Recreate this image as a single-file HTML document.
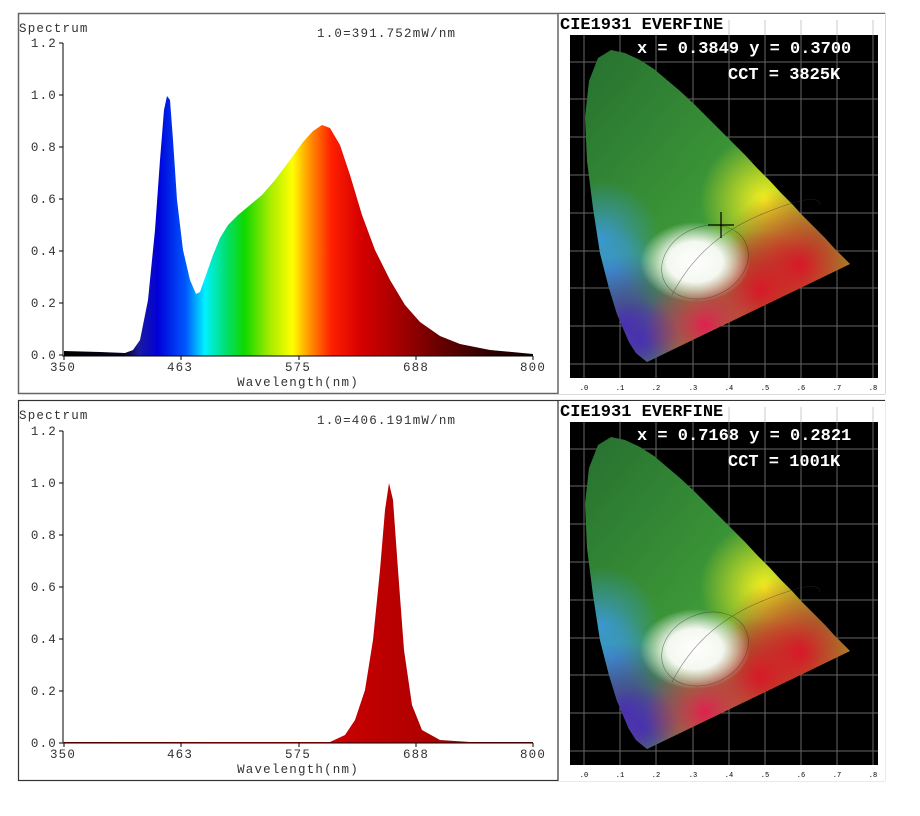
<!DOCTYPE html>
<html><head><meta charset="utf-8"><style>
html,body{margin:0;padding:0;background:#fff;}
svg{display:block;}
.m{font-family:"Liberation Mono",monospace;}
.l{letter-spacing:1.2px;}
</style></head><body>
<svg width="920" height="816" viewBox="0 0 920 816" xmlns="http://www.w3.org/2000/svg">
<defs>
<linearGradient id="spec" gradientUnits="userSpaceOnUse" x1="64" y1="0" x2="533" y2="0">
<stop offset="0" stop-color="#000"/>
<stop offset="0.13" stop-color="#050520"/>
<stop offset="0.16" stop-color="#1a1aa0"/>
<stop offset="0.2" stop-color="#0000d8"/>
<stop offset="0.26" stop-color="#0058ff"/>
<stop offset="0.3" stop-color="#00f0ff"/>
<stop offset="0.345" stop-color="#00e070"/>
<stop offset="0.385" stop-color="#10d800"/>
<stop offset="0.44" stop-color="#a8ec00"/>
<stop offset="0.487" stop-color="#ffff00"/>
<stop offset="0.525" stop-color="#ff9000"/>
<stop offset="0.57" stop-color="#ff2000"/>
<stop offset="0.63" stop-color="#d80000"/>
<stop offset="0.72" stop-color="#a00000"/>
<stop offset="0.8" stop-color="#680000"/>
<stop offset="0.9" stop-color="#300000"/>
<stop offset="1" stop-color="#100000"/>
</linearGradient>
<linearGradient id="red" x1="0" y1="0" x2="1" y2="0">
<stop offset="0" stop-color="#a00000"/><stop offset="0.5" stop-color="#d40000"/><stop offset="1" stop-color="#900000"/>
</linearGradient>
<clipPath id="hs"><path d="M647,362 L636,353 L629,342 L617,314 L609,288 L600,253 L593,208 L587,161 L585,117 L589,81 L598,58 L611,50 L625,53 L640,60 L654,69 L667,80 L680,91 L693,103 L706,116 L719,129 L732,142 L745,155 L757,168 L770,181 L781,193 L792,204 L802,215 L811,224 L819,232 L825,238 L834,248 L850,264 Z"/></clipPath>
<radialGradient id="gY"><stop offset="0" stop-color="#f4f020"/><stop offset="1" stop-color="#f4f020" stop-opacity="0"/></radialGradient>
<radialGradient id="gR"><stop offset="0" stop-color="#d81828"/><stop offset="1" stop-color="#d81828" stop-opacity="0"/></radialGradient>
<radialGradient id="gB"><stop offset="0" stop-color="#4a30b0"/><stop offset="1" stop-color="#4a30b0" stop-opacity="0"/></radialGradient>
<radialGradient id="gC"><stop offset="0" stop-color="#3a98d0"/><stop offset="1" stop-color="#3a98d0" stop-opacity="0"/></radialGradient>
<radialGradient id="gW"><stop offset="0" stop-color="#ffffff"/><stop offset="0.5" stop-color="#f4f8f0"/><stop offset="1" stop-color="#ffffff" stop-opacity="0"/></radialGradient>
<radialGradient id="gM"><stop offset="0" stop-color="#e02050"/><stop offset="1" stop-color="#e02050" stop-opacity="0"/></radialGradient>
<linearGradient id="gG" x1="0" y1="0" x2="1" y2="1"><stop offset="0" stop-color="#256e30"/><stop offset="0.5" stop-color="#3e9a38"/><stop offset="1" stop-color="#b8c820"/></linearGradient>
<g id="cie">
<rect x="558" y="14" width="327" height="380" fill="#fff"/>
<rect x="570" y="35" width="308" height="343" fill="#000"/>
<g stroke="#aaa" stroke-width="1" opacity="0.6">
<line x1="584" y1="20" x2="584" y2="378"/><line x1="620" y1="20" x2="620" y2="378"/><line x1="656" y1="20" x2="656" y2="378"/><line x1="693" y1="20" x2="693" y2="378"/><line x1="729" y1="20" x2="729" y2="378"/><line x1="765" y1="20" x2="765" y2="378"/><line x1="801" y1="20" x2="801" y2="378"/><line x1="837" y1="20" x2="837" y2="378"/><line x1="873" y1="20" x2="873" y2="378"/>
<line x1="570" y1="62" x2="878" y2="62"/><line x1="570" y1="99" x2="878" y2="99"/><line x1="570" y1="137" x2="878" y2="137"/><line x1="570" y1="175" x2="878" y2="175"/><line x1="570" y1="213" x2="878" y2="213"/><line x1="570" y1="251" x2="878" y2="251"/><line x1="570" y1="288" x2="878" y2="288"/><line x1="570" y1="326" x2="878" y2="326"/><line x1="570" y1="364" x2="878" y2="364"/>
</g>
<g clip-path="url(#hs)">
<rect x="580" y="40" width="280" height="330" fill="url(#gG)"/>
<circle cx="600" cy="240" r="60" fill="url(#gC)"/>
<circle cx="612" cy="270" r="45" fill="url(#gC)"/>
<circle cx="625" cy="325" r="70" fill="url(#gB)"/>
<circle cx="640" cy="340" r="40" fill="url(#gB)"/>
<circle cx="765" cy="200" r="65" fill="url(#gY)"/>
<circle cx="800" cy="265" r="80" fill="url(#gR)"/>
<circle cx="760" cy="290" r="60" fill="url(#gR)"/>
<circle cx="705" cy="325" r="60" fill="url(#gM)"/>
<ellipse cx="695" cy="262" rx="55" ry="40" fill="url(#gW)"/>
</g>
<g fill="none" stroke="#333" stroke-width="0.6" opacity="0.6">
<path d="M672,295 Q700,240 760,215 T820,205"/>
<ellipse cx="705" cy="262" rx="45" ry="35" transform="rotate(-25 705 262)"/>
</g>
<g class="m" font-size="7" fill="#000" text-anchor="middle">
<text x="584" y="390">.0</text><text x="620" y="390">.1</text><text x="656" y="390">.2</text><text x="693" y="390">.3</text><text x="729" y="390">.4</text><text x="765" y="390">.5</text><text x="801" y="390">.6</text><text x="837" y="390">.7</text><text x="873" y="390">.8</text>
</g>
<rect x="558" y="14" width="170" height="20" fill="#fff"/>
<text class="m" x="560" y="29" font-size="17" font-weight="bold" fill="#000">CIE1931 EVERFINE</text>
</g>
</defs>

<!-- Top panel -->
<rect x="18.5" y="13.5" width="866" height="380" fill="none" stroke="#666" stroke-width="1.5"/>
<use href="#cie"/>
<line x1="558" y1="13" x2="558" y2="394" stroke="#666" stroke-width="1.5"/>
<path d="M64,351 L100,352 L125,353 L133,350 L140,340 L148,300 L155,230 L160,160 L164,110 L167,96 L170,100 L173,140 L177,200 L183,250 L190,280 L196,294 L200,292 L206,275 L213,255 L220,238 L228,225 L238,215 L250,205 L262,195 L275,180 L290,160 L303,142 L313,131 L322,125 L330,128 L340,145 L350,175 L362,215 L375,250 L390,280 L405,305 L420,322 L440,336 L460,344 L490,350 L533,354 L533,356 L64,356 Z" fill="url(#spec)"/>
<g stroke="#000" stroke-width="1" fill="none">
<path d="M63,43 V356 H533"/>
<path d="M59,43 H63 M59,95 H63 M59,147 H63 M59,199 H63 M59,251 H63 M59,303 H63 M59,355 H63"/>
<path d="M64,356 V360 M181,356 V360 M299,356 V360 M416,356 V360 M533,356 V360"/>
</g>
<g class="m l" font-size="12.5" fill="#333">
<text x="19" y="32">Spectrum</text>
<text x="317" y="37">1.0=391.752mW/nm</text>
<g text-anchor="end"><text x="57" y="47">1.2</text><text x="57" y="99">1.0</text><text x="57" y="151">0.8</text><text x="57" y="203">0.6</text><text x="57" y="255">0.4</text><text x="57" y="307">0.2</text><text x="57" y="359">0.0</text></g>
<g text-anchor="middle"><text x="63" y="371">350</text><text x="180" y="371">463</text><text x="298" y="371">575</text><text x="416" y="371">688</text><text x="533" y="371">800</text><text x="298" y="386">Wavelength(nm)</text></g>
</g>
<g class="m" font-size="17" font-weight="bold" fill="#fff">
<text x="637" y="53">x = 0.3849 y = 0.3700</text>
<text x="728" y="79">CCT = 3825K</text>
</g>
<path d="M721,212 V238 M708,225 H734" stroke="#000" stroke-width="1.2"/>

<!-- Bottom panel -->
<rect x="18.5" y="400.5" width="866" height="380" fill="none" stroke="#333" stroke-width="1.2"/>
<use href="#cie" transform="translate(0,387)"/>
<line x1="558" y1="400" x2="558" y2="781" stroke="#333" stroke-width="1.2"/>
<path d="M64,742 L330,742 L345,735 L355,720 L365,690 L373,640 L380,570 L385,510 L389,483 L393,500 L398,570 L404,650 L412,705 L422,730 L440,740 L470,742 L533,742 L533,743 L64,743 Z" fill="url(#red)"/>
<g stroke="#000" stroke-width="1" fill="none">
<path d="M63,431 V743 H533"/>
<path d="M59,431 H63 M59,483 H63 M59,535 H63 M59,587 H63 M59,639 H63 M59,691 H63 M59,743 H63"/>
<path d="M64,743 V747 M181,743 V747 M299,743 V747 M416,743 V747 M533,743 V747"/>
</g>
<g class="m l" font-size="12.5" fill="#333">
<text x="19" y="419">Spectrum</text>
<text x="317" y="424">1.0=406.191mW/nm</text>
<g text-anchor="end"><text x="57" y="435">1.2</text><text x="57" y="487">1.0</text><text x="57" y="539">0.8</text><text x="57" y="591">0.6</text><text x="57" y="643">0.4</text><text x="57" y="695">0.2</text><text x="57" y="747">0.0</text></g>
<g text-anchor="middle"><text x="63" y="758">350</text><text x="180" y="758">463</text><text x="298" y="758">575</text><text x="416" y="758">688</text><text x="533" y="758">800</text><text x="298" y="773">Wavelength(nm)</text></g>
</g>
<g class="m" font-size="17" font-weight="bold" fill="#fff">
<text x="637" y="440">x = 0.7168 y = 0.2821</text>
<text x="728" y="466">CCT = 1001K</text>
</g>
</svg>
</body></html>
